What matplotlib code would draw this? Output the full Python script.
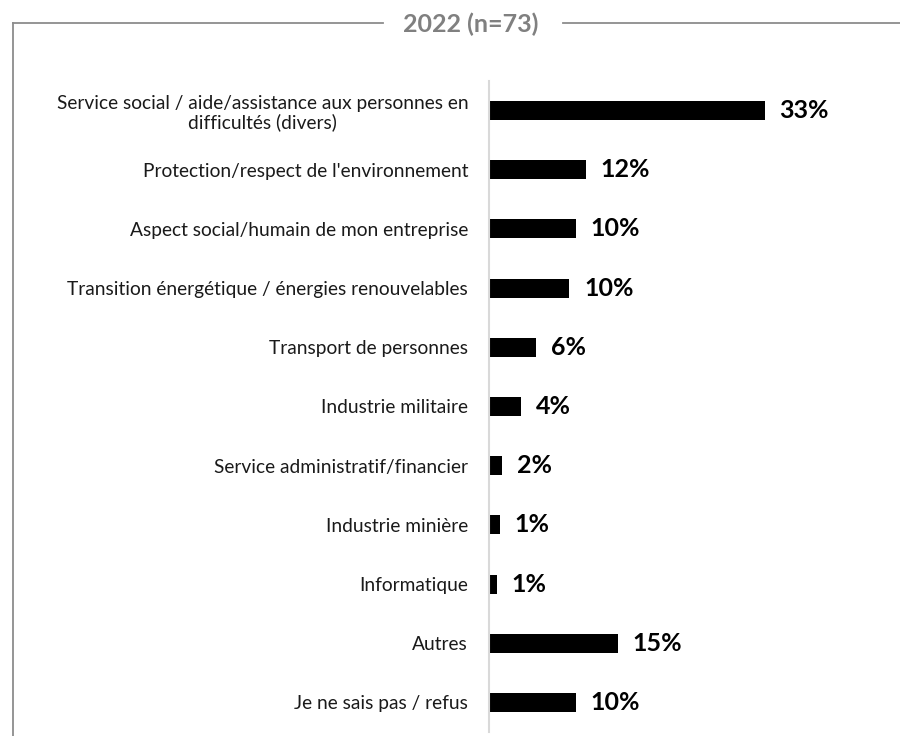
import matplotlib
matplotlib.use("Agg")
import matplotlib.pyplot as plt
from matplotlib.lines import Line2D

plt.rcParams['font.family'] = ['Lato', 'DejaVu Sans']

# Données (en %)
categories = [
    "Service social / aide/assistance aux personnes en\ndifficultés (divers)",
    "Protection/respect de l'environnement",
    "Aspect social/humain de mon entreprise",
    "Transition énergétique / énergies renouvelables",
    "Transport de personnes",
    "Industrie militaire",
    "Service administratif/financier",
    "Industrie minière",
    "Informatique",
    "Autres",
    "Je ne sais pas / refus",
]
values = [33.0, 11.6, 10.4, 9.6, 5.6, 3.8, 1.6, 1.3, 0.9, 15.4, 10.4]
title = "2022 (n=73)"

W, H = 900, 736
fig = plt.figure(figsize=(W / 100, H / 100), dpi=100)

# zone du graphique (en pixels)
left_px, top_px, bottom_px = 489, 81, 732
xmax = 40
width_px = 8.35 * xmax
ax = fig.add_axes([left_px / W, 1 - bottom_px / H, width_px / W, (bottom_px - top_px) / H])

y = list(range(len(categories)))
ax.barh(y, values, height=0.32, color='black')
ax.set_xlim(0, xmax)
ax.set_ylim(len(categories) - 0.5, -0.5)

for yi, v in zip(y, values):
    ax.annotate(f"{v:.0f}%", (v, yi), xytext=(15, 0), textcoords='offset pixels',
                va='center', ha='left', fontsize=18, fontweight='bold', color='black')

ax.set_yticks(y)
ax.set_yticklabels(categories, fontsize=13.8, color='#1a1a1a', ha='right',
                   multialignment='center', linespacing=1.1)
ax.tick_params(axis='y', length=0, pad=15)
ax.set_xticks([])
for s in ['top', 'right', 'bottom']:
    ax.spines[s].set_visible(False)
ax.spines['left'].set_color('#d9d9d9')
ax.spines['left'].set_linewidth(1.5)

# cadre avec titre
frame_col = '#8c8c8c'
ty = 1 - 23 / H
fig.add_artist(Line2D([13 / W, 13 / W], [0, ty], color=frame_col, lw=1.3))
fig.add_artist(Line2D([13 / W, 383 / W], [ty, ty], color=frame_col, lw=1.3))
fig.add_artist(Line2D([563 / W, 1], [ty, ty], color=frame_col, lw=1.3))
fig.text(471 / W, 1 - 24 / H, title, ha='center', va='center', fontsize=18,
         fontweight='bold', color='#808080')

fig.savefig("out.png", dpi=100)
